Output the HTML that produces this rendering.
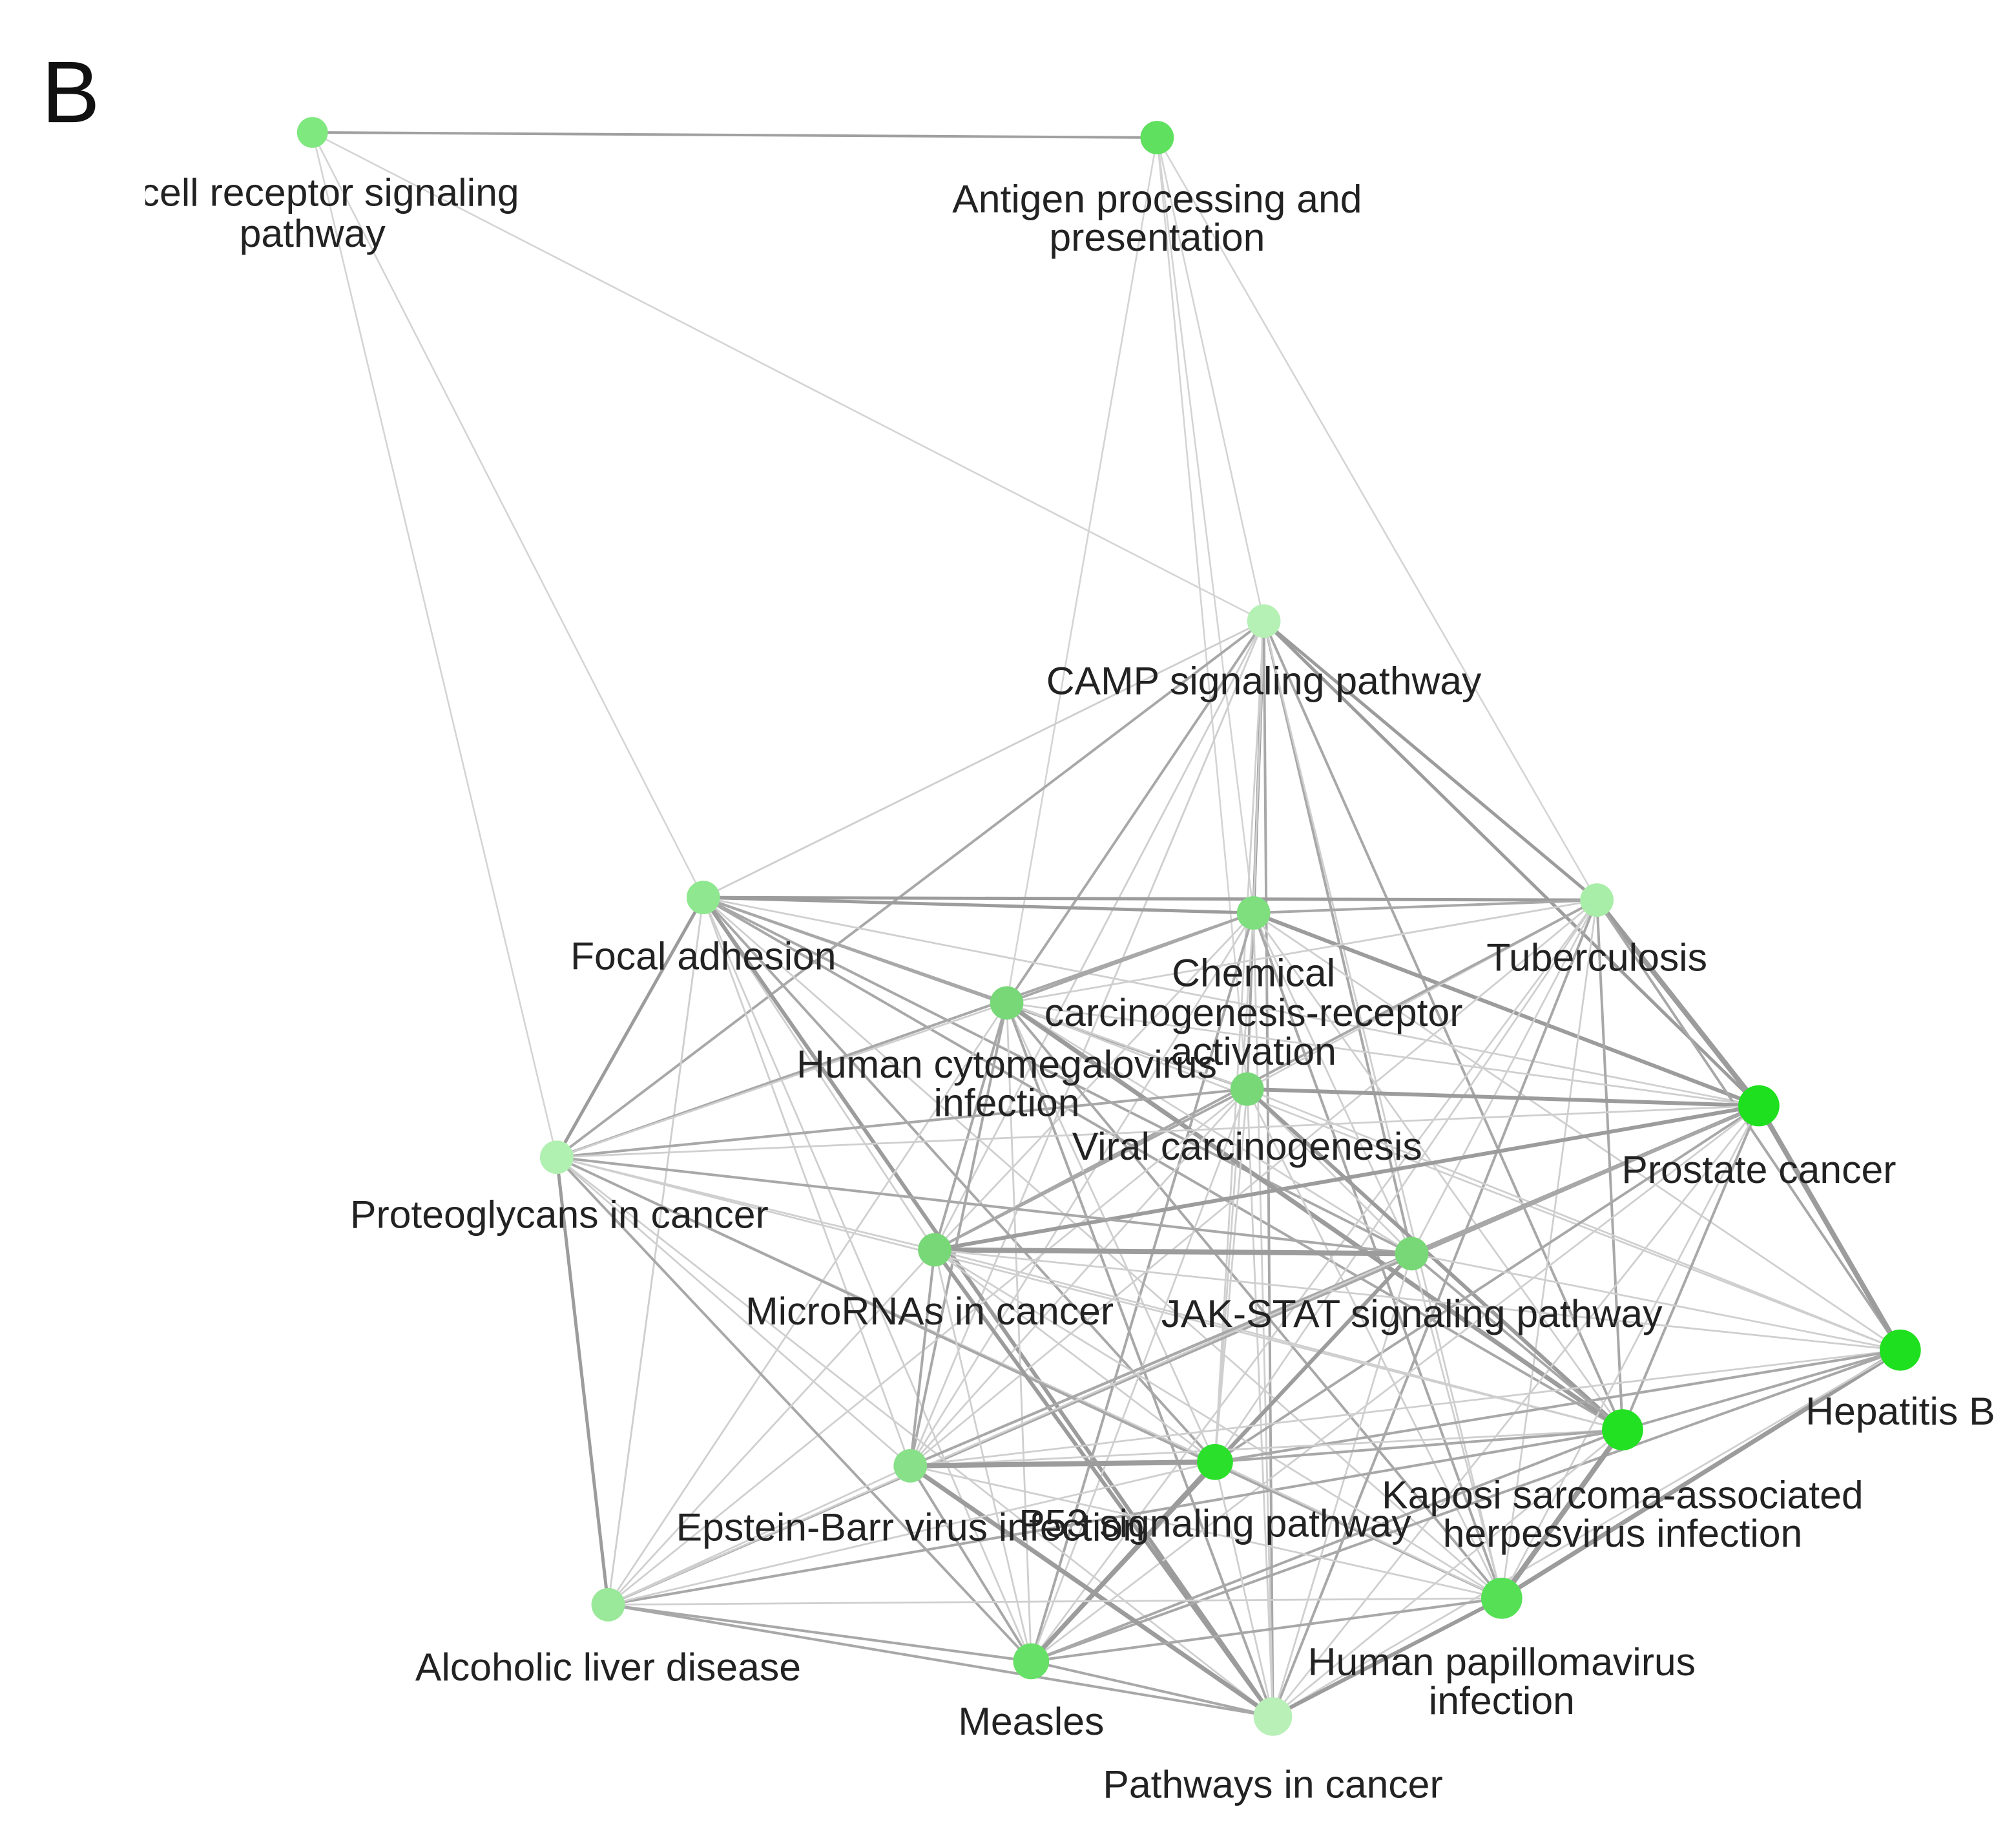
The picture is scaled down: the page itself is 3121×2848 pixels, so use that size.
<!DOCTYPE html>
<html><head><meta charset="utf-8"><style>
html,body{margin:0;padding:0;background:#fff;}
svg{display:block;}
text{font-family:"Liberation Sans",Arial,sans-serif;font-size:30.5px;fill:#222;text-anchor:middle;}
</style></head><body>
<svg id="s" width="3121" height="2848" viewBox="0 0 1568 1431" preserveAspectRatio="none" xmlns="http://www.w3.org/2000/svg">
<rect width="1568" height="1431" fill="#fff"/>
<g id="edges"></g>
<g id="nodes"></g>
<g id="labels">
<text x="243" y="160">T cell receptor signaling</text>
<text x="243" y="192">pathway</text>
<text x="900" y="165">Antigen processing and</text>
<text x="900" y="195">presentation</text>
<text x="983" y="540">CAMP signaling pathway</text>
<text x="547" y="754">Focal adhesion</text>
<text x="975" y="767">Chemical</text>
<text x="975" y="798">carcinogenesis-receptor</text>
<text x="975" y="828">activation</text>
<text x="1242" y="755">Tuberculosis</text>
<text x="783" y="838">Human cytomegalovirus</text>
<text x="783" y="868">infection</text>
<text x="970" y="902">Viral carcinogenesis</text>
<text x="1368" y="920">Prostate cancer</text>
<text x="435" y="955">Proteoglycans in cancer</text>
<text x="723" y="1030">MicroRNAs in cancer</text>
<text x="1098" y="1032">JAK-STAT signaling pathway</text>
<text x="1478" y="1108">Hepatitis B</text>
<text x="1262" y="1173">Kaposi sarcoma-associated</text>
<text x="1262" y="1203">herpesvirus infection</text>
<text x="708" y="1198">Epstein-Barr virus infection</text>
<text x="945" y="1195">P53 signaling pathway</text>
<text x="473" y="1307">Alcoholic liver disease</text>
<text x="1168" y="1303">Human papillomavirus</text>
<text x="1168" y="1333">infection</text>
<text x="802" y="1349">Measles</text>
<text x="990" y="1398">Pathways in cancer</text>
</g>
<rect x="0" y="120" width="113" height="90" fill="#fff"/>
<text x="55" y="95" style="font-size:68px;fill:#111">B</text>
</svg>
<script>
var N={TCR:[243,103,'#7fe87f',12],AG:[900,107,'#5fe05f',13],CAMP:[983,483,'#b5f0b5',13],FA:[547,698,'#8fe88f',13],CH:[975,710,'#7fdf7f',13],TB:[1242,700,'#a8eea8',13],HC:[783,780,'#78d878',13],VC:[970,847,'#78d878',13],PC:[1368,860,'#1ee01e',16],PG:[433,900,'#b0f0b0',13],MI:[727,972,'#78d878',13],JK:[1098,975,'#78d878',13],HB:[1478,1050,'#1ee01e',16],KS:[1262,1112,'#22e022',16],EB:[708,1140,'#88e088',13],P5:[945,1137,'#2be02b',14],AL:[473,1248,'#9ae89a',13],HP:[1168,1243,'#55e055',16],ME:[802,1292,'#66e066',14],PA:[990,1335,'#b8f0b8',15]};
var ns="http://www.w3.org/2000/svg";
function line(a,b,w,c){var p=N[a],q=N[b];var l=document.createElementNS(ns,'line');l.setAttribute('x1',p[0]);l.setAttribute('y1',p[1]);l.setAttribute('x2',q[0]);l.setAttribute('y2',q[1]);l.setAttribute('stroke',c);l.setAttribute('stroke-width',w);document.getElementById('edges').appendChild(l);}
var light=[['TCR','CAMP'],['TCR','FA'],['TCR','PG'],['AG','CAMP'],['AG','CH'],['AG','HC'],['AG','VC'],['AG','TB'],['CAMP','FA'],['CAMP','HC'],['CAMP','MI'],['CAMP','PG'],['CAMP','EB'],['PG','AL'],['FA','AL']];
line('TCR','AG',2,'#a0a0a0');
light.forEach(function(e){line(e[0],e[1],1.3,'#d4d4d4');});
var cl=['CAMP','FA','CH','TB','HC','VC','PC','PG','MI','JK','HB','KS','EB','P5','AL','HP','ME','PA'];
var skip={'CAMP-HB':1,'CAMP-AL':1,'CAMP-ME':1,'FA-HB':1,'PG-TB':1,'PG-HB':1,'AL-TB':1,'AL-CH':1,'AL-HB':1,'CAMP-KS':0};
var heavy={'MI-JK':4,'EB-P5':4,'PC-TB':4,'PC-HB':4,'KS-HP':4,'HB-HP':3.5,'HC-KS':3.5,'MI-PC':3,'VC-PC':3,'P5-ME':3.5,'EB-PA':3.5,'CH-PC':3,'FA-PA':3,'MI-PA':3,'KS-VC':3,'JK-PC':3,'HP-PA':3,'JK-ME':3,'FA-CH':2.5,'FA-TB':2.5,'PG-FA':2.5,'PG-AL':2.5,'CAMP-TB':2.5,'CAMP-CH':2.5,'CAMP-PC':2.5};
var h=0;
for(var i=0;i<cl.length;i++)for(var j=i+1;j<cl.length;j++){var a=cl[i],b=cl[j],k=a+'-'+b,k2=b+'-'+a;if(skip[k]||skip[k2])continue;
var w=heavy[k]||heavy[k2];h=(h*31+i*7+j*13)%17;
if(w)line(a,b,w,'#9c9c9c');else if(h<7)line(a,b,2,'#a8a8a8');else line(a,b,1.4,'#cfcfcf');}
for(var n in N){var p=N[n];var c=document.createElementNS(ns,'circle');c.setAttribute('cx',p[0]);c.setAttribute('cy',p[1]);c.setAttribute('r',p[3]);c.setAttribute('fill',p[2]);document.getElementById('nodes').appendChild(c);}
</script>
</body></html>
